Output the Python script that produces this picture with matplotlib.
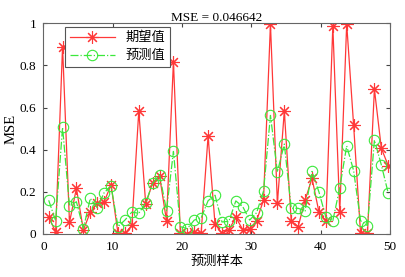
import numpy as np
import matplotlib
matplotlib.use("Agg")
import matplotlib.pyplot as plt

plt.rcParams["font.family"] = ["Liberation Serif", "Noto Sans CJK SC"]

# sample index (points sit slightly left of the integer ticks in the reference)
samples = np.arange(1, 51) - 0.25

expected = [0.079, 0.011, 0.889, 0.055, 0.217, 0.019, 0.103, 0.146, 0.153, 0.233,
            0.003, 0.003, 0.041, 0.584, 0.142, 0.244, 0.275, 0.063, 0.818, 0.003,
            0.002, 0.008, 0.006, 0.465, 0.047, 0.003, 0.019, 0.079, 0.021, 0.024,
            0.063, 0.161, 0.997, 0.146, 0.584, 0.060, 0.035, 0.161, 0.264, 0.104,
            0.062, 0.987, 0.104, 0.997, 0.517, 0.003, 0.005, 0.687, 0.407, 0.324]

predicted = [0.160, 0.063, 0.506, 0.133, 0.153, 0.025, 0.169, 0.125, 0.196, 0.228,
             0.035, 0.066, 0.104, 0.098, 0.149, 0.240, 0.282, 0.111, 0.392, 0.035,
             0.025, 0.066, 0.076, 0.158, 0.184, 0.057, 0.060, 0.157, 0.130, 0.066,
             0.101, 0.204, 0.563, 0.294, 0.427, 0.122, 0.122, 0.109, 0.297, 0.199,
             0.079, 0.063, 0.220, 0.418, 0.301, 0.063, 0.040, 0.446, 0.328, 0.193]

mse_text = "MSE = 0.046642"

fig = plt.figure(figsize=(4.06, 2.77), dpi=100)
ax = fig.add_axes([43.5 / 406, 1 - 234 / 277, (390 - 43.5) / 406, (234 - 23.3) / 277])

ax.plot(samples, expected, color="#ff3838", linewidth=0.9, marker=(8, 2, 0),
        markersize=9, markeredgewidth=0.8, label="期望值")
ax.plot(samples, predicted, color="#3be83b", linewidth=0.9, linestyle="-.",
        marker="o", markersize=7.5, markerfacecolor="none", markeredgewidth=0.8,
        label="预测值")

ax.set_xlim(0, 50)
ax.set_ylim(0, 1)
ax.set_xticks([0, 10, 20, 30, 40, 50])
ax.set_yticks([0, 0.2, 0.4, 0.6, 0.8, 1])
ax.set_yticklabels(["0", "0.2", "0.4", "0.6", "0.8", "1"])
ax.tick_params(direction="in", top=True, right=True, labelsize=9.5, length=3,
               color="#444444", pad=5)
for s in ax.spines.values():
    s.set_color("#666666")
    s.set_linewidth(0.8)

ax.set_title(mse_text, fontsize=9.5, pad=2)
ax.set_xlabel("预测样本", fontsize=9.5, labelpad=2)
ax.set_ylabel("MSE", fontsize=10.5, labelpad=2)

leg = ax.legend(loc="upper left", bbox_to_anchor=(0.055, 0.995), fontsize=9.5,
                fancybox=False, framealpha=1, edgecolor="#555555",
                handlelength=3.4, handletextpad=0.8, borderpad=0.35,
                labelspacing=0.45, borderaxespad=0.2)
leg.get_frame().set_linewidth(0.8)

fig.savefig("out.png", dpi=100)
